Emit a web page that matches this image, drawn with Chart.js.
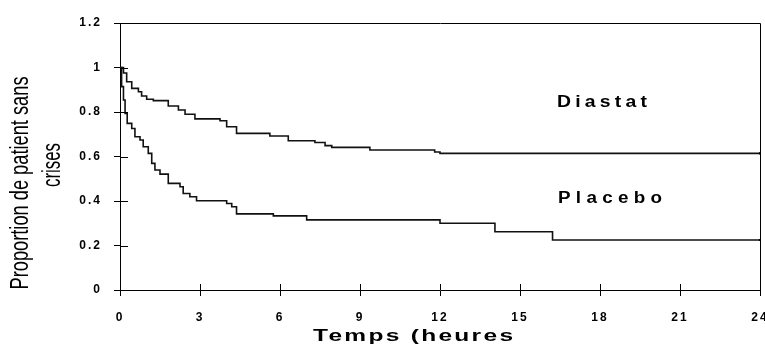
<!DOCTYPE html>
<html>
<head>
<meta charset="utf-8">
<script src="https://cdn.jsdelivr.net/npm/chart.js@4.4.1/dist/chart.umd.min.js"></script>
<style>
  html, body { margin: 0; padding: 0; background: #fff; }
  #wrap { width: 765px; height: 344px; }
</style>
</head>
<body>
<div id="wrap"><canvas id="km"></canvas></div>
<script>
/* --------------- Data --------------- */
const diastatTime = [0, 0.13, 0.25, 0.44, 0.69, 0.81, 1.0, 1.25, 1.81, 2.19, 2.44, 2.81, 3.75, 4.0, 4.37, 5.62, 6.31, 7.31, 7.69, 7.94, 9.37, 11.8, 12.0, 24];
const diastatSurv = [1.0, 0.975, 0.936, 0.906, 0.891, 0.872, 0.857, 0.851, 0.827, 0.809, 0.79, 0.769, 0.761, 0.734, 0.704, 0.692, 0.671, 0.663, 0.649, 0.641, 0.629, 0.62, 0.614, 0.614];

const placeboTime = [0, 0.06, 0.13, 0.19, 0.27, 0.44, 0.56, 0.75, 0.87, 1.06, 1.19, 1.31, 1.5, 1.81, 2.25, 2.37, 2.62, 2.87, 4.0, 4.19, 4.37, 5.75, 7.0, 12.0, 14.06, 16.22, 24];
const placeboSurv = [1.0, 0.914, 0.854, 0.794, 0.749, 0.726, 0.689, 0.674, 0.644, 0.614, 0.569, 0.539, 0.521, 0.479, 0.464, 0.434, 0.419, 0.401, 0.389, 0.374, 0.342, 0.333, 0.315, 0.30, 0.262, 0.225, 0.225];

const xTicks = [0, 3, 6, 9, 12, 15, 18, 21, 24];
const seriesNames = ["Diastat", "Placebo"];
const xTitle = "Temps (heures";
const yTitle = ["Proportion de patient sans", "crises"];

const toPoints = (t, s) => t.map((x, i) => ({ x: x, y: s[i] }));

/* --------------- helper: stretched / spaced text --------------- */
const fitText = (ctx, txt, cx, cy, font, width, spacing, rot) => {
  ctx.save();
  ctx.font = font;
  ctx.letterSpacing = spacing + "px";
  const w = ctx.measureText(txt).width - spacing;
  ctx.translate(cx, cy);
  if (rot) ctx.rotate(rot);
  ctx.scale(width / w, 1);
  ctx.textAlign = "left";
  ctx.textBaseline = "alphabetic";
  ctx.fillStyle = "#000";
  ctx.fillText(txt, -w / 2, 0);
  ctx.restore();
};

/* --------------- extra drawing: inner ticks, box, titles, labels --------------- */
const decor = {
  id: "decor",
  beforeDraw(chart) {
    chart.ctx.letterSpacing = "2px";
  },
  afterDraw(chart) {
    const ctx = chart.ctx;
    const a = chart.chartArea;
    const xs = chart.scales.x, ys = chart.scales.y;
    ctx.save();
    ctx.letterSpacing = "0px";
    ctx.strokeStyle = "#000";
    ctx.lineWidth = 1;
    // box top / right
    ctx.beginPath();
    ctx.moveTo(Math.round(a.left) + 0.5, Math.round(a.top) + 0.5);
    ctx.lineTo(Math.round(a.right) + 0.5, Math.round(a.top) + 0.5);
    ctx.lineTo(Math.round(a.right) + 0.5, Math.round(a.bottom) + 0.5);
    ctx.stroke();
    // inner half of the crossing ticks
    ctx.beginPath();
    ys.ticks.forEach(t => {
      const py = Math.round(ys.getPixelForValue(t.value)) + 0.5;
      ctx.moveTo(a.left, py);
      ctx.lineTo(a.left + 8, py);
    });
    xs.ticks.forEach(t => {
      const px = Math.round(xs.getPixelForValue(t.value)) + 0.5;
      ctx.moveTo(px, a.bottom);
      ctx.lineTo(px, a.bottom - 6);
    });
    ctx.stroke();
    ctx.restore();

    // axis titles
    fitText(ctx, yTitle[0], 28, 183, "25px 'Liberation Sans'", 213, 0, -Math.PI / 2);
    fitText(ctx, yTitle[1], 60, 165, "25px 'Liberation Sans'", 44, 0, -Math.PI / 2);
    fitText(ctx, xTitle, 413, 341, "bold 16px 'Liberation Sans'", 200, 1.5, 0);

    // curve labels
    fitText(ctx, seriesNames[0], 602, 107, "bold 16px 'Liberation Sans'", 90, 3.5, 0);
    fitText(ctx, seriesNames[1], 610, 203, "bold 16px 'Liberation Sans'", 104, 4.5, 0);
  }
};

const noPad = (s) => { s.paddingLeft = 0; s.paddingRight = 0; s.paddingTop = 0; s.paddingBottom = 0; };
const lastDot = (ctx) => (ctx.dataIndex === ctx.dataset.data.length - 1 ? 1.5 : 0);

const lineSet = (name, t, s) => ({
  label: name,
  data: toPoints(t, s),
  stepped: "before",
  borderColor: "#111",
  borderWidth: 1.6,
  pointRadius: lastDot,
  pointStyle: "rect",
  pointBackgroundColor: "#000",
  pointBorderWidth: 0,
  fill: false
});

new Chart(document.getElementById("km"), {
  type: "line",
  plugins: [decor],
  data: {
    datasets: [
      lineSet(seriesNames[0], diastatTime, diastatSurv),
      lineSet(seriesNames[1], placeboTime, placeboSurv)
    ]
  },
  options: {
    responsive: true,
    maintainAspectRatio: false,
    animation: false,
    layout: { autoPadding: false, padding: { left: 0, top: 23, right: 5, bottom: 0 } },
    plugins: {
      legend: { display: false },
      tooltip: { enabled: false }
    },
    scales: {
      x: {
        type: "linear",
        min: 0,
        max: 24,
        afterFit: (s) => { s.height = 54; noPad(s); },
        afterBuildTicks: (s) => { s.ticks = xTicks.map(v => ({ value: v })); },
        ticks: {
          color: "#000",
          padding: 14,
          maxRotation: 0,
          autoSkip: false,
          font: { family: "'Liberation Sans'", size: 12, weight: "bold" }
        },
        grid: { drawOnChartArea: false, drawTicks: true, tickLength: 6, color: "#000" },
        border: { color: "#000", width: 1 }
      },
      y: {
        min: 0,
        max: 1.2,
        afterFit: (s) => { s.width = 120; noPad(s); },
        ticks: {
          stepSize: 0.2,
          color: "#000",
          padding: 12,
          callback: (v) => String(Number(v.toFixed(2))),
          font: { family: "'Liberation Sans'", size: 12, weight: "bold" }
        },
        grid: { drawOnChartArea: false, drawTicks: true, tickLength: 6, color: "#000" },
        border: { color: "#000", width: 1 }
      }
    }
  }
});
</script>
</body>
</html>
